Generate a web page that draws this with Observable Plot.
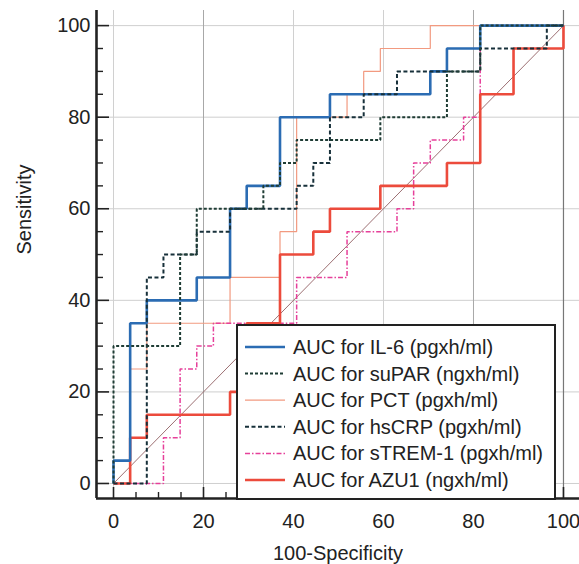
<!DOCTYPE html>
<html><head><meta charset="utf-8">
<script src="https://cdn.jsdelivr.net/npm/d3@7"></script>
<script src="https://cdn.jsdelivr.net/npm/@observablehq/plot@0.6"></script>
<style>
body{margin:0;background:#fff;}
#wrap{position:relative;width:579px;height:564px;font-family:"Liberation Sans",Arial,sans-serif;}
#legend{position:absolute;left:236px;top:324px;}
</style></head><body><div id="wrap"></div>
<script>
// ---- data ----
const seriesNames = ["AUC for IL-6 (pgxh/ml)", "AUC for suPAR (ngxh/ml)", "AUC for PCT (pgxh/ml)",
  "AUC for hsCRP (pgxh/ml)", "AUC for sTREM-1 (pgxh/ml)", "AUC for AZU1 (ngxh/ml)"];

const il6X = [0,0,3.7,3.7,7.4,7.4,18.5,18.5,25.9,25.9,29.6,29.6,37.0,37.0,48.1,48.1,70.4,70.4,74.1,74.1,81.5,81.5,100];
const il6Y = [0,5,5,35,35,40,40,45,45,60,60,65,65,80,80,85,85,90,90,95,95,100,100];

const suparX = [0,0,14.8,14.8,18.5,18.5,33.3,33.3,37.0,37.0,40.7,40.7,59.3,59.3,74.1,74.1,81.5,81.5,100];
const suparY = [0,30,30,50,50,60,60,65,65,70,70,75,75,80,80,90,90,100,100];

const pctX = [0,3.7,3.7,7.4,7.4,25.9,25.9,37.0,37.0,40.7,40.7,51.9,51.9,55.6,55.6,59.3,59.3,70.4,70.4,100];
const pctY = [0,0,25,25,35,35,45,45,55,55,80,80,85,85,90,90,95,95,100,100];

const hscrpX = [0,7.4,7.4,11.1,11.1,18.5,18.5,25.9,25.9,40.7,40.7,44.4,44.4,48.1,48.1,55.6,55.6,63.0,63.0,81.5,81.5,96.3,96.3,100];
const hscrpY = [0,0,45,45,50,50,55,55,60,60,65,65,70,70,80,80,85,85,90,90,95,95,100,100];

const stremX = [0,11.1,11.1,14.8,14.8,18.5,18.5,22.2,22.2,40.7,40.7,51.9,51.9,63.0,63.0,66.7,66.7,70.4,70.4,77.8,77.8,81.5,81.5,100];
const stremY = [0,0,10,10,25,25,30,30,35,35,45,45,55,55,60,60,70,70,75,75,80,80,100,100];

const azuX = [0,3.7,3.7,7.4,7.4,25.9,25.9,29.6,29.6,37.0,37.0,44.4,44.4,48.1,48.1,59.3,59.3,74.1,74.1,81.5,81.5,88.9,88.9,100,100];
const azuY = [0,0,10,10,15,15,20,20,35,35,50,50,55,55,60,60,65,65,70,70,85,85,95,95,100];

const diagX = [0,100];
const diagY = [0,100];

const xMajor = [0,20,40,60,80,100];
const xMinor = [5,10,15,25,30,35,45,50,55,65,70,75,85,90,95];
const yMajor = [0,20,40,60,80,100];
const yMinor = [5,10,15,25,30,35,45,50,55,65,70,75,85,90,95];
const xLabel = "100-Specificity";
const yLabel = "Sensitivity";

// ---- layout / styles ----
const W = 579, H = 564, ML = 96, MR = 0, MT = 10, MB = 66;
const xDom = [-3.78, 103.56];
const yDom = [-3.28, 103.3];
const pxX = (W - ML - MR) / (xDom[1] - xDom[0]);
const pxY = (H - MT - MB) / (yDom[1] - yDom[0]);

const styles = [
  {stroke: "#2b6cb3", sw: 2.6, dash: null},
  {stroke: "#1f3d35", sw: 2, dash: "3,2"},
  {stroke: "#f29a80", sw: 1.2, dash: null},
  {stroke: "#17303a", sw: 2, dash: "4,2.5"},
  {stroke: "#e6409a", sw: 1.5, dash: "5,2,1.5,2"},
  {stroke: "#ec4b3c", sw: 2.6, dash: null}
];
const seriesData = [[il6X, il6Y], [suparX, suparY], [pctX, pctY], [hscrpX, hscrpY], [stremX, stremY], [azuX, azuY]];
const series = seriesData.map(([xs, ys], i) => ({
  name: seriesNames[i], ...styles[i],
  pts: xs.map((x, j) => ({x, y: ys[j]}))
}));
const drawOrder = [2, 4, 5, 0, 3, 1];

const lineMark = s => Plot.line(s.pts, {x: "x", y: "y", stroke: s.stroke, strokeWidth: s.sw,
  strokeDasharray: s.dash, strokeLinejoin: "miter", strokeLinecap: "butt"});

const chart = Plot.plot({
  width: W, height: H,
  marginLeft: ML, marginRight: MR, marginTop: MT, marginBottom: MB,
  x: {domain: xDom},
  y: {domain: yDom},
  style: {fontFamily: "'Liberation Sans', Arial, sans-serif", background: "#fff", color: "#222"},
  marks: [
    Plot.ruleY(yMajor, {stroke: "#cfcfcf", strokeWidth: 1}),
    Plot.ruleX(xMajor.filter(d => d === 40 || d === 60 || d === 0), {stroke: "#d0d0d0", strokeWidth: 1}),
    Plot.ruleX(xMajor.filter(d => d === 20 || d === 80), {stroke: "#a8a8a8", strokeWidth: 1}),
    Plot.ruleX(xMajor.filter(d => d === 100), {stroke: "#777", strokeWidth: 1.2}),
    Plot.line(diagX.map((x, i) => ({x, y: diagY[i]})), {x: "x", y: "y", stroke: "#9c6f72", strokeWidth: 1}),
    ...drawOrder.map(i => lineMark(series[i])),
    // axis lines
    Plot.ruleX([xDom[0]], {stroke: "#222", strokeWidth: 2.6}),
    Plot.ruleY([yDom[0]], {stroke: "#222", strokeWidth: 2.6}),
    // inward ticks
    Plot.ruleY(yMajor, {x1: xDom[0], x2: xDom[0] + 13 / pxX, stroke: "#222", strokeWidth: 1.6}),
    Plot.ruleY(yMinor, {x1: xDom[0], x2: xDom[0] + 7 / pxX, stroke: "#222", strokeWidth: 1.4}),
    Plot.ruleX(xMajor, {y1: yDom[0], y2: yDom[0] + 11 / pxY, stroke: "#222", strokeWidth: 1.6}),
    Plot.ruleX(xMinor, {y1: yDom[0], y2: yDom[0] + 6 / pxY, stroke: "#222", strokeWidth: 1.4}),
    // tick labels
    Plot.axisY(yMajor, {tickSize: 0, tickPadding: 6, fontSize: 20, label: null, color: "#222"}),
    Plot.axisX(xMajor, {tickSize: 0, tickPadding: 15, fontSize: 20, label: null, color: "#222"}),
    Plot.text([xLabel], {frameAnchor: "bottom", lineAnchor: "top", dy: 47, fontSize: 20, fill: "#222"}),
    Plot.text([yLabel], {frameAnchor: "left", rotate: -90, dx: -72, fontSize: 20, fill: "#222"})
  ]
});
const wrap = document.getElementById("wrap");
wrap.appendChild(chart);

// ---- legend overlay ----
const LW = 320, LH = 176, rowH = 26.6, row0 = 23;
const leg = d3.select(wrap).append("svg").attr("id", "legend")
  .attr("width", LW).attr("height", LH)
  .style("font-family", "'Liberation Sans', Arial, sans-serif");
leg.append("rect").attr("x", 1).attr("y", 1).attr("width", LW - 2).attr("height", LH - 2)
  .attr("fill", "#fff").attr("stroke", "#222").attr("stroke-width", 2);
series.forEach((s, i) => {
  const cy = row0 + i * rowH;
  leg.append("line").attr("x1", 9).attr("x2", 49).attr("y1", cy).attr("y2", cy)
    .attr("stroke", s.stroke).attr("stroke-width", s.sw).attr("stroke-dasharray", s.dash);
  leg.append("text").attr("x", 57).attr("y", cy + 7).attr("font-size", 20).attr("fill", "#222").text(s.name);
});
</script></body></html>
